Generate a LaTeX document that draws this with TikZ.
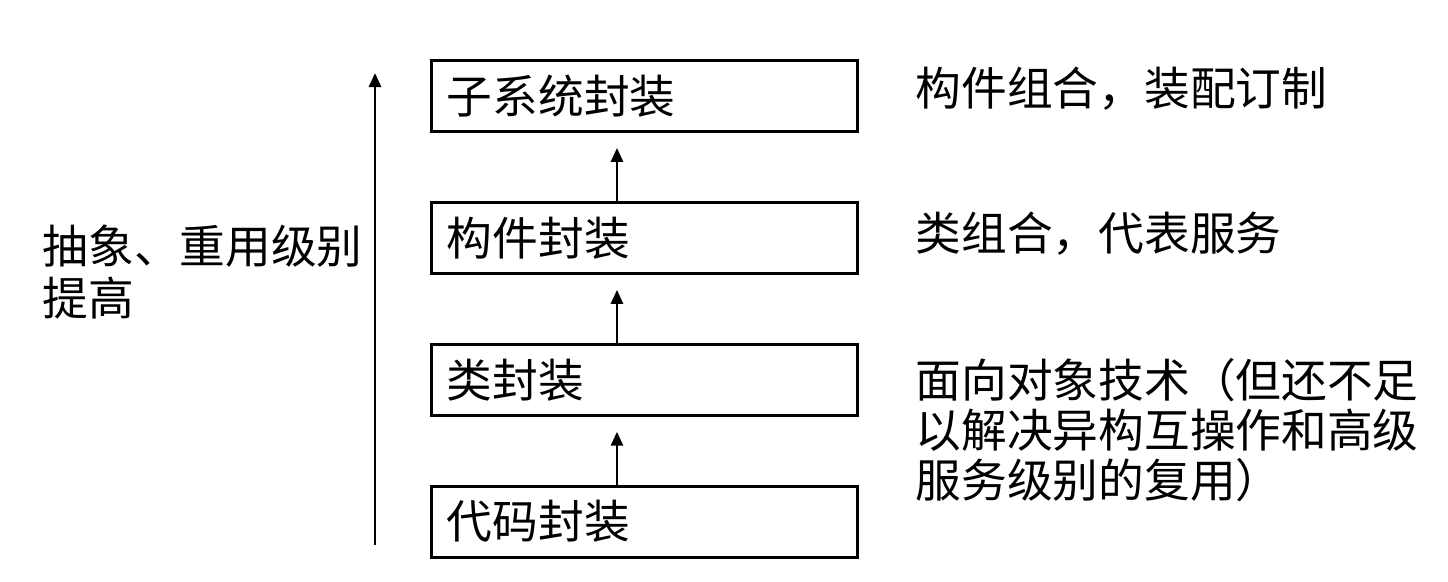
\documentclass[tikz,border=0pt]{standalone}
\usepackage{fontspec}
\setmainfont{Noto Sans CJK SC}
\usetikzlibrary{arrows.meta,positioning}

\begin{document}
\begin{tikzpicture}[
  x=0.01cm,y=-0.01cm,
  >={Triangle[length=1.4mm,width=1.2mm]},
  lvl/.style={draw,line width=0.8pt,minimum height=0.71cm,text width=3.95cm,
    inner xsep=0.15cm,inner ysep=0pt,align=left,font=\fontsize{13}{15}\selectfont},
  note/.style={anchor=north west,inner sep=0pt,align=left,font=\fontsize{13}{14.2}\selectfont},
  ar/.style={->,line width=0.8pt}
]
\useasboundingbox (0,0) rectangle (1448,581);

% ---- encapsulation levels ----
\node[lvl] (sub) at (644.5,96) {子系统封装};
\node[lvl,below=0.68cm of sub] (comp) {构件封装};
\node[lvl,below=0.68cm of comp] (cls) {类封装};
\node[lvl,below=0.68cm of cls] (code) {代码封装};

% ---- remarks on the right ----
\node[note] (nsub) at (915,66) {构件组合，装配订制};
\node[note] (ncomp) at (915,211) {类组合，代表服务};
\node[note] (ncls) at (915,358) {面向对象技术（但还不足\\以解决异构互操作和高级\\服务级别的复用）};

% ---- rising level ----
\coordinate (lowend) at (375,545);
\coordinate (topend) at (375,73);
\node[note,font=\fontsize{13}{14.8}\selectfont] (rise) at (42,224) {抽象、重用级别\\提高};

% wires
\draw[ar] ([xshift=-0.275cm]code.north) -- ([xshift=-0.275cm,yshift=-0.15cm]cls.south);
\draw[ar] ([xshift=-0.275cm]cls.north) -- ([xshift=-0.275cm,yshift=-0.15cm]comp.south);
\draw[ar] ([xshift=-0.275cm]comp.north) -- ([xshift=-0.275cm,yshift=-0.15cm]sub.south);
\draw[ar] (lowend) -- (topend);
\end{tikzpicture}
\end{document}
